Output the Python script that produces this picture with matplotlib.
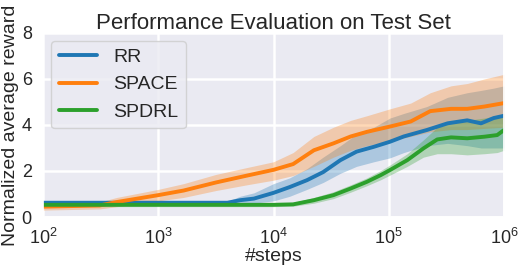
import numpy as np
import matplotlib
matplotlib.use('Agg')
import matplotlib.pyplot as plt
import seaborn as sns

# log10(steps) and mean / lower / upper for each method
rr_x = [2.0, 3.0, 3.6, 3.71, 3.83, 4.0, 4.14, 4.29, 4.43, 4.58, 4.72, 4.87, 5.01, 5.13, 5.33, 5.51, 5.68, 5.80, 5.91, 6.0]
rr_mean = [0.62, 0.62, 0.62, 0.73, 0.8, 1.05, 1.3, 1.6, 1.95, 2.47, 2.84, 3.05, 3.27, 3.5, 3.78, 4.07, 4.2, 4.07, 4.3, 4.4]
rr_low = [0.5, 0.5, 0.5, 0.55, 0.6, 0.7, 0.9, 1.2, 1.5, 1.9, 2.2, 2.4, 2.57, 2.8, 3.1, 3.2, 3.1, 3.0, 3.0, 3.0]
rr_high = [0.65, 0.65, 0.68, 0.9, 1.05, 1.45, 1.7, 2.1, 2.6, 3.1, 3.6, 3.9, 4.3, 4.5, 4.8, 5.2, 5.4, 5.5, 5.6, 5.7]

space_x = [2.0, 2.49, 2.64, 3.0, 3.22, 3.5, 3.77, 4.0, 4.17, 4.35, 4.52, 4.67, 4.81, 5.01, 5.19, 5.36, 5.54, 5.68, 5.83, 6.0]
space_mean = [0.45, 0.5, 0.65, 0.95, 1.15, 1.5, 1.8, 2.05, 2.3, 2.9, 3.2, 3.5, 3.7, 3.93, 4.15, 4.6, 4.7, 4.7, 4.8, 4.95]
space_low = [0.3, 0.35, 0.45, 0.7, 0.85, 1.15, 1.4, 1.6, 1.8, 2.2, 2.6, 2.9, 3.1, 3.3, 3.5, 3.7, 3.8, 3.8, 3.85, 3.9]
space_high = [0.6, 0.65, 0.85, 1.2, 1.45, 1.85, 2.15, 2.4, 2.8, 3.5, 3.9, 4.2, 4.4, 4.7, 4.95, 5.4, 5.7, 5.8, 6.0, 6.2]

spdrl_x = [2.0, 3.0, 4.0, 4.17, 4.35, 4.52, 4.67, 4.81, 4.93, 5.01, 5.16, 5.30, 5.42, 5.54, 5.68, 5.83, 5.94, 6.0]
spdrl_mean = [0.53, 0.53, 0.53, 0.55, 0.73, 0.95, 1.24, 1.53, 1.82, 2.04, 2.47, 2.98, 3.37, 3.46, 3.42, 3.49, 3.56, 3.78]
spdrl_low = [0.45, 0.45, 0.45, 0.47, 0.6, 0.8, 1.08, 1.36, 1.62, 1.82, 2.2, 2.6, 2.75, 2.75, 2.7, 2.75, 2.8, 2.9]
spdrl_high = [0.6, 0.6, 0.6, 0.63, 0.85, 1.1, 1.4, 1.7, 2.02, 2.26, 2.75, 3.35, 3.9, 4.1, 4.2, 4.3, 4.4, 4.5]

sns.set_theme(style='darkgrid')
plt.rcParams['font.family'] = ['Liberation Sans', 'DejaVu Sans']

fig = plt.figure(figsize=(5.24, 2.74), dpi=100)
ax = fig.add_axes([0.082, 0.208, 0.88, 0.672])

series = [
    ('RR', rr_x, rr_mean, rr_low, rr_high, '#1f77b4'),
    ('SPACE', space_x, space_mean, space_low, space_high, '#ff7f0e'),
    ('SPDRL', spdrl_x, spdrl_mean, spdrl_low, spdrl_high, '#2ca02c'),
]
# bands first, lines on top
for name, lx, m, lo, hi, c in series:
    steps = 10 ** np.array(lx)
    ax.fill_between(steps, lo, hi, color=c, alpha=0.3, lw=0)
for name, lx, m, lo, hi, c in series:
    steps = 10 ** np.array(lx)
    ax.plot(steps, m, color=c, lw=2.8, label=name)

ax.set_xscale('log')
ax.set_xlim(1e2, 1e6)
ax.set_ylim(0, 8)
ax.set_yticks([0, 2, 4, 6, 8])
ax.minorticks_off()
ax.grid(True, color='white', lw=1.8)
ax.tick_params(labelsize=13, pad=2)
ax.set_xlabel('#steps', fontsize=14, labelpad=0)
ax.set_ylabel('Normalized average reward', fontsize=14, labelpad=2)
ax.set_title('Performance Evaluation on Test Set', fontsize=16, pad=3)
ax.legend(loc='upper left', fontsize=14, handlelength=2.0, borderaxespad=0.4)

fig.savefig('out.png', dpi=100)
